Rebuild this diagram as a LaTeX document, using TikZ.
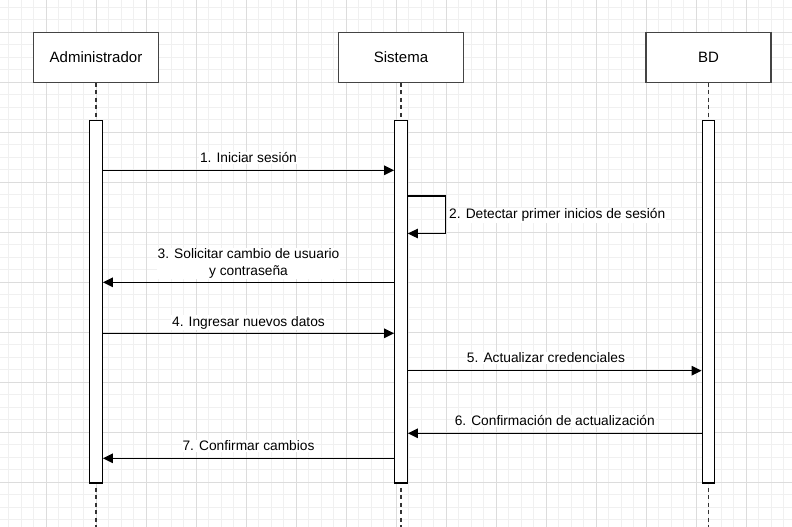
\documentclass[tikz,border=0pt]{standalone}
\usepackage{fontspec}
\setmainfont{Liberation Sans}
\usetikzlibrary{arrows.meta}
\definecolor{gridminor}{HTML}{F0F0F0}
\definecolor{gridmajor}{HTML}{DCDCDC}
\definecolor{boxborder}{HTML}{444444}
\tikzset{
  actor/.style={draw=boxborder, fill=white, line width=1.25pt, minimum width=125pt, minimum height=50pt, inner sep=0pt, font=\fontsize{15}{18}\selectfont},
  activ/.style={draw=black, fill=white, line width=1.25pt, minimum width=12.5pt, minimum height=362.7pt, inner sep=0pt},
  life/.style={draw=black!80, line width=1.25pt, dash pattern=on 3.75pt off 3.75pt},
  msg/.style={draw=black, line width=1.25pt, -{Triangle[length=10pt,width=9.5pt]}},
  lbl/.style={fill=white, inner sep=1pt, font=\fontsize{13.75}{16.5}\selectfont, align=center},
}
\begin{document}
\begin{tikzpicture}[x=1pt,y=-1pt]
\useasboundingbox (0,0) rectangle (792,527);
\clip (0,0) rectangle (792,527);
\fill[white] (0,0) rectangle (792,527);
% grid
\foreach \i in {0,...,63} { \draw[gridminor, line width=1pt] ({8.5+12.5*\i},0) -- ++(0,527); }
\foreach \i in {0,...,42} { \draw[gridminor, line width=1pt] (0,{7.3+12.5*\i}) -- ++(792,0); }
\foreach \i in {0,...,15} { \draw[gridmajor, line width=1pt] ({46+50*\i},0) -- ++(0,527); }
\foreach \i in {0,...,10} { \draw[gridmajor, line width=1pt] (0,{32.3+50*\i}) -- ++(792,0); }

% actors
\node[actor] (adm) at (96,57.3) {Administrador};
\node[actor] (sis) at (401,57.3) {Sistema};
\node[actor] (bd) at (708.5,57.3) {BD};
\coordinate (admEnd) at (96,530);
\coordinate (sisEnd) at (401,530);
\coordinate (bdEnd) at (708.5,530);
\draw[life] (adm.south) -- (admEnd);
\draw[life] (sis.south) -- (sisEnd);
\draw[life] (bd.south) -- (bdEnd);

% activations
\node[activ] (admA) at (96,301.65) {};
\node[activ] (sisA) at (401,301.65) {};
\node[activ] (bdA) at (708.5,301.65) {};

% messages
\draw[msg] (admA.east |- 0,170.3) -- node[lbl, midway, anchor=base, yshift=7.6pt] {1. Iniciar sesión} (sisA.west |- 0,170.3);
\draw[msg] (sisA.east |- 0,196) -- ++(37.75,0) -- ++(0,37.5) -- (sisA.east |- 0,233.5);
\node[lbl, anchor=base west] (m2) at (448,218.7) {2. Detectar primer inicios de sesión};
\draw[msg] (sisA.west |- 0,282.3) -- node[lbl, midway, anchor=base, yshift=7pt] {3. Solicitar cambio de usuario\\y contraseña} (admA.east |- 0,282.3);
\draw[msg] (admA.east |- 0,333.3) -- node[lbl, midway, anchor=base, yshift=7.3pt] {4. Ingresar nuevos datos} (sisA.west |- 0,333.3);
\draw[msg] (sisA.east |- 0,370.7) -- node[lbl, pos=0.47, anchor=base, yshift=8pt] {5. Actualizar credenciales} (bdA.west |- 0,370.7);
\draw[msg] (bdA.west |- 0,433.3) -- node[lbl, midway, anchor=base, yshift=7.6pt] {6. Confirmación de actualización} (sisA.east |- 0,433.3);
\draw[msg] (sisA.west |- 0,458.3) -- node[lbl, midway, anchor=base, yshift=7.6pt] {7. Confirmar cambios} (admA.east |- 0,458.3);
\end{tikzpicture}
\end{document}
